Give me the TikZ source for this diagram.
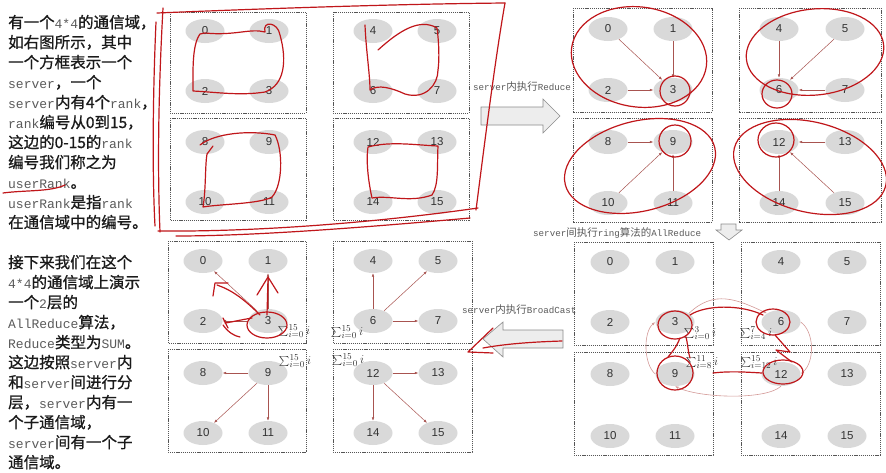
\documentclass[tikz,border=0pt]{standalone}
\usepackage{fontspec}
\setmainfont{Liberation Sans}
\newfontfamily\cjk{Noto Sans CJK SC}
\newfontfamily\cjkb{Noto Sans CJK SC}[FakeBold=0.9]
\newfontfamily\lat{Liberation Mono}
\usetikzlibrary{arrows.meta,shapes.geometric}
\definecolor{latc}{HTML}{5A5A5A}
\definecolor{txtc}{HTML}{1A1A1A}
\definecolor{boxc}{HTML}{555555}
\definecolor{ellc}{HTML}{D9D9D9}
\definecolor{numc}{HTML}{333333}
\definecolor{arc}{HTML}{A85450}
\definecolor{ringc}{HTML}{D49A98}
\definecolor{penc}{HTML}{C0161A}
\definecolor{bafill}{HTML}{EDEDED}
\definecolor{badraw}{HTML}{8C8C8C}
\newcommand\la[1]{{\lat\fontsize{13}{20}\selectfont\color{latc}#1}}
\newcommand\lb[1]{{\lat\fontsize{9.2}{12}\selectfont #1}}
\tikzset{
 srvbox/.style={draw=boxc, line width=0.9pt, dash pattern=on 1.2pt off 0.9pt},
 rk/.style={ellipse, fill=ellc, minimum width=39pt, minimum height=24pt, inner sep=0pt, text=numc, font=\fontsize{11.5}{12}\selectfont},
 ar/.style={draw=arc, line width=0.5pt, -{Latex[length=3.5pt,width=2.6pt]}},
 ring/.style={draw=ringc, line width=0.6pt, -{Latex[length=3.5pt,width=2.6pt]}},
 pen/.style={draw=penc, line width=1.2pt, line cap=round, line join=round},
 sumlab/.style={inner sep=0pt, text=numc, font=\fontsize{13}{14}\selectfont},
 blockarr/.style={fill=bafill, draw=badraw, line width=0.6pt},
 lefttxt/.style={anchor=base west, inner sep=0pt, text=txtc, font=\cjkb\fontsize{15.5}{20}\selectfont},
 arlab/.style={anchor=base west, inner sep=0pt, text=latc, font=\cjk\fontsize{10.5}{12}\selectfont},
}
\newcommand\rankgroup[5]{%
 \foreach \s in {0,1,2,3}{%
   \pgfmathtruncatemacro\bx{mod(\s,2)}%
   \pgfmathtruncatemacro\by{int(\s/2)}%
   \pgfmathtruncatemacro\ixa{2*\bx}%
   \pgfmathtruncatemacro\ixb{2*\bx+1}%
   \pgfmathtruncatemacro\iya{2*\by}%
   \pgfmathtruncatemacro\iyb{2*\by+1}%
   \pgfmathsetmacro\xa{{#4}[\ixa]}%
   \pgfmathsetmacro\xb{{#4}[\ixb]}%
   \pgfmathsetmacro\ya{{#5}[\iya]}%
   \pgfmathsetmacro\yb{{#5}[\iyb]}%
   \draw[srvbox] (\xa,\ya) rectangle (\xb,\yb);
 }%
 \foreach \r in {0,...,15}{%
   \pgfmathtruncatemacro\ci{mod(int(\r/4),2)*2+mod(\r,2)}%
   \pgfmathtruncatemacro\ri{int(\r/8)*2+int(mod(\r,4)/2)}%
   \pgfmathsetmacro\xx{{#2}[\ci]}%
   \pgfmathsetmacro\yy{{#3}[\ri]}%
   \node[rk] (#1\r) at (\xx,\yy) {\r};
 }%
}
\begin{document}
\begin{tikzpicture}[x=1pt,y=-1pt]
\fill[white] (0,0) rectangle (886,472);
\useasboundingbox (0,0) rectangle (886,472);

% ---- four 4x4 groups ----
\rankgroup{a}{205,269,373,437}{31,91,142,202}{170,306,333,469}{12,113,118,220}
\rankgroup{b}{608,673,779,845}{29,90,142,203}{573,712,739,881}{8,112,118,222}
\rankgroup{c}{203,268,373,438}{261,321,373,433}{168,306,333,472}{241,343,349,452}
\rankgroup{d}{610,675,781,847}{262,322,374,436}{574,713,741,880}{242,345,352,455}

% reduce arrows (top right)
\draw[ar] (b0) -- (b3); \draw[ar] (b1) -- (b3); \draw[ar] (b2) -- (b3);
\draw[ar] (b4) -- (b6); \draw[ar] (b5) -- (b6); \draw[ar] (b7) -- (b6);
\draw[ar] (b8) -- (b9); \draw[ar] (b10) -- (b9); \draw[ar] (b11) -- (b9);
\draw[ar] (b13) -- (b12); \draw[ar] (b14) -- (b12); \draw[ar] (b15) -- (b12);
% broadcast arrows (bottom left)
\draw[ar] (c3) -- (c0); \draw[ar] (c3) -- (c1); \draw[ar] (c3) -- (c2);
\draw[ar] (c6) -- (c4); \draw[ar] (c6) -- (c5); \draw[ar] (c6) -- (c7);
\draw[ar] (c9) -- (c8); \draw[ar] (c9) -- (c10); \draw[ar] (c9) -- (c11);
\draw[ar] (c12) -- (c13); \draw[ar] (c12) -- (c14); \draw[ar] (c12) -- (c15);

% sums
\node[sumlab] (sc3) at (294,331) {$\sum_{i=0}^{15} i$};
\node[sumlab] (sc6) at (347,332) {$\sum_{i=0}^{15} i$};
\node[sumlab] (sc9) at (295,361) {$\sum_{i=0}^{15} i$};
\node[sumlab] (sc12) at (348,360) {$\sum_{i=0}^{15} i$};
\node[sumlab] (sd3) at (700,333) {$\sum_{i=0}^{3} i$};
\node[sumlab] (sd6) at (756,333) {$\sum_{i=4}^{7} i$};
\node[sumlab] (sd9) at (702,362) {$\sum_{i=8}^{11} i$};
\node[sumlab] (sd12) at (759,362) {$\sum_{i=12}^{15} i$};

% ring allreduce
\draw[ring] (d3.north east) .. controls +(25,-24) and +(-30,-14) .. (d6.north west);
\draw[ring] (d6.east) .. controls +(14,10) and +(14,-12) .. (d12.east);
\draw[ring] (d12.south) .. controls +(-15,14) and +(25,12) .. (d9.south);
\draw[ring] (d9.west) .. controls +(-12,-10) and +(-12,10) .. (d3.west);

% block arrows
\draw[blockarr] (481,107) -- (543,107) -- (543,99) -- (560,116) -- (543,133) -- (543,125) -- (481,125) -- cycle;
\draw[blockarr] (563,330) -- (503,330) -- (503,322) -- (483,339) -- (503,357) -- (503,348) -- (563,348) -- cycle;
\draw[blockarr] (721,224) -- (736,224) -- (736,230) -- (742,230) -- (729,240) -- (716,230) -- (721,230) -- cycle;

% arrow labels
\node[arlab] (l1) at (473,90) {\lb{server}内执行\lb{Reduce}};
\node[arlab] (l2) at (533,236) {\lb{server}间执行\lb{ring}算法的\lb{AllReduce}};
\node[arlab] (l3) at (462,313) {\lb{server}内执行\lb{BroadCast}};

% left texts
\node[lefttxt] (t1) at (8,28) {有一个\la{4*4}的通信域，};
\node[lefttxt] (t2) at (8,48) {如右图所示，其中};
\node[lefttxt] (t3) at (8,68) {一个方框表示一个};
\node[lefttxt] (t4) at (8,88) {\la{server}，一个};
\node[lefttxt] (t5) at (8,108) {\la{server}内有4个\la{rank}，};
\node[lefttxt] (t6) at (8,128) {\la{rank}编号从0到15，};
\node[lefttxt] (t7) at (8,148) {这边的0-15的\la{rank}};
\node[lefttxt] (t8) at (8,168) {编号我们称之为};
\node[lefttxt] (t9) at (8,188) {\la{userRank}。};
\node[lefttxt] (t10) at (8,208) {\la{userRank}是指\la{rank}};
\node[lefttxt] (t11) at (8,228) {在通信域中的编号。};

\node[lefttxt] (u1) at (8,268) {接下来我们在这个};
\node[lefttxt] (u2) at (8,288) {\la{4*4}的通信域上演示};
\node[lefttxt] (u3) at (8,308) {一个\la{2}层的};
\node[lefttxt] (u4) at (8,328) {\la{AllReduce}算法，};
\node[lefttxt] (u5) at (8,348) {\la{Reduce}类型为\la{SUM}。};
\node[lefttxt] (u6) at (8,368) {这边按照\la{server}内};
\node[lefttxt] (u7) at (8,388) {和\la{server}间进行分};
\node[lefttxt] (u8) at (8,408) {层，\la{server}内有一};
\node[lefttxt] (u9) at (8,428) {个子通信域，};
\node[lefttxt] (u10) at (8,448) {\la{server}间有一个子};
\node[lefttxt] (u11) at (8,468) {通信域。};

% ---- hand-drawn red annotations ----
% underline userRank
\draw[pen] (3,193) .. controls (25,190) and (50,192) .. (65,185);
% big frame round the top-left group
\draw[pen] (157,13) .. controls (280,8) and (400,4) .. (505,3);
\draw[pen] (505,3) .. controls (495,60) and (485,140) .. (476,210);
\draw[pen] (478,208) .. controls (380,222) and (260,232) .. (158,231);
\draw[pen] (470,218) .. controls (380,226) and (260,236) .. (176,236);
\draw[pen] (163,8) .. controls (159,80) and (157,160) .. (160,232);
\draw[pen] (156,22) .. controls (153,90) and (152,170) .. (155,226);
% loops inside the servers
\draw[pen] (205,33) .. controls (235,36) and (250,28) .. (265,32) .. controls (262,20) and (278,22) .. (280,35) .. controls (287,60) and (285,85) .. (265,92) .. controls (240,96) and (215,92) .. (193,91) .. controls (193,70) and (192,45) .. (200,34) -- (205,33);
\draw[pen] (365,25) .. controls (366,50) and (370,75) .. (370,90) .. controls (378,84) and (392,88) .. (405,94) .. controls (425,100) and (438,85) .. (438,70) .. controls (440,55) and (438,35) .. (437,28) .. controls (420,18) and (400,30) .. (378,50);
\draw[pen] (200,145) .. controls (215,133) and (250,130) .. (275,135) .. controls (283,150) and (283,185) .. (272,197) .. controls (260,204) and (220,204) .. (203,207) .. controls (206,190) and (205,165) .. (207,154) -- (213,146);
\draw[pen] (368,147) .. controls (390,141) and (415,145) .. (438,146) .. controls (437,165) and (439,185) .. (432,195) .. controls (410,203) and (390,195) .. (372,198) .. controls (368,180) and (366,160) .. (368,147);
% top right: rings round servers and root ranks
\draw[pen, rotate around={-8:(639,57)}] (639,57) ellipse (68 and 50);
\draw[pen] (675,91) ellipse (15 and 15);
\draw[pen, rotate around={6:(815,52)}] (815,52) ellipse (69 and 43);
\draw[pen] (777,94) ellipse (15 and 14);
\draw[pen, rotate around={14:(640,166)}] (640,166) ellipse (77 and 45);
\draw[pen] (675,141) ellipse (16 and 16);
\draw[pen, rotate around={-14:(810,167)}] (810,167) ellipse (78 and 45);
\draw[pen] (776,140) ellipse (18 and 17);
% bottom left: broadcast marks at rank 3
\draw[pen] (267,325) ellipse (20 and 13);
\draw[pen] (267,315) -- (268,278);
\draw[pen] (257,295) -- (268,277) -- (278,293);
\draw[pen] (260,315) .. controls (245,300) and (232,290) .. (217,285);
\draw[pen] (213,296) -- (215,283) -- (228,283);
\draw[pen] (252,318) .. controls (240,320) and (232,322) .. (225,323);
\draw[pen] (223,318) -- (228,328);
\draw[pen] (223,325) .. controls (228,332) and (234,336) .. (240,337);
% broadcast arrow stroke
\draw[pen] (562,341) .. controls (530,342) and (505,344) .. (483,348);
\draw[pen] (493,328) -- (468,352) -- (493,353);
% bottom right: ring marks
\draw[pen] (675,325) ellipse (17 and 14);
\draw[pen] (675,373) ellipse (18 and 17);
\draw[pen] (773,322) ellipse (17 and 13);
\draw[pen] (783,372) ellipse (20 and 12);
\draw[pen] (690,315) .. controls (705,305) and (740,304) .. (763,315);
\draw[pen] (680,338) .. controls (676,348) and (672,352) .. (668,357);
\draw[pen] (686,337) .. controls (688,345) and (688,352) .. (690,358);
\draw[pen] (775,335) -- (790,352) -- (776,350) -- (792,362);
\draw[pen] (713,373) .. controls (730,371) and (745,372) .. (762,373);
\end{tikzpicture}
\end{document}
